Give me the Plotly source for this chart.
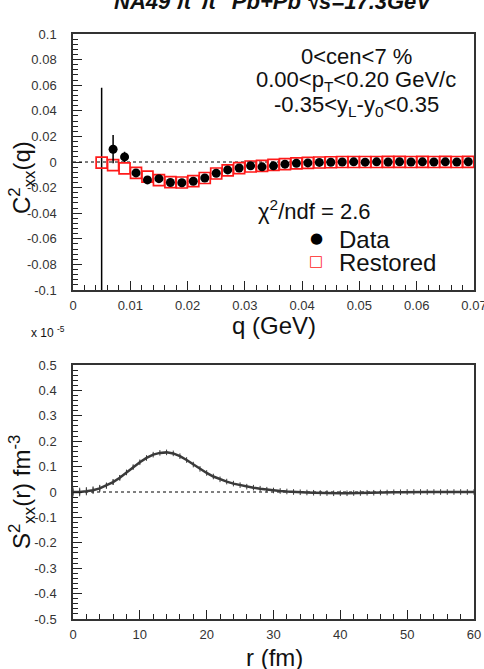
import plotly.graph_objects as go

# ---------------- data ----------------
# top panel: correlation C^2_xx(q)
data_q = [0.007, 0.009, 0.011, 0.013, 0.015, 0.017, 0.019, 0.021, 0.023, 0.025,
          0.027, 0.029, 0.031, 0.033, 0.035, 0.037, 0.039, 0.041, 0.043, 0.045,
          0.047, 0.049, 0.051, 0.053, 0.055, 0.057, 0.059, 0.061, 0.063, 0.065,
          0.067, 0.069]
data_c = [0.0100, 0.0040, -0.0085, -0.0140, -0.0130, -0.0160, -0.0162, -0.0150, -0.0125, -0.0088,
          -0.0062, -0.0047, -0.0030, -0.0038, -0.0030, -0.0017, -0.0010, -0.0007, -0.0003, -0.0002,
          0.0000, 0.0001, -0.0001, 0.0001, 0.0000, 0.0002, 0.0000, 0.0001, 0.0000, 0.0001,
          0.0000, 0.0002]
data_err = [0.011, 0.004, 0.002, 0.0015, 0.0012, 0.001, 0.001, 0.0008, 0.0008, 0.0007,
            0.0006, 0.0006, 0.0005, 0.0005, 0.0005, 0.0004, 0.0004, 0.0004, 0.0004, 0.0003,
            0.0003, 0.0003, 0.0003, 0.0003, 0.0003, 0.0003, 0.0003, 0.0003, 0.0003, 0.0003,
            0.0003, 0.0003]

# first bin: no data marker, only a very large uncertainty
lead_q = [0.005]
lead_c = [0.0]
lead_err_up = [0.058]
lead_err_down = [0.15]

rest_q = [0.005, 0.007, 0.009, 0.011, 0.013, 0.015, 0.017, 0.019, 0.021, 0.023,
          0.025, 0.027, 0.029, 0.031, 0.033, 0.035, 0.037, 0.039, 0.041, 0.043,
          0.045, 0.047, 0.049, 0.051, 0.053, 0.055, 0.057, 0.059, 0.061, 0.063,
          0.065, 0.067, 0.069]
rest_c = [-0.0005, -0.0025, -0.0050, -0.0085, -0.0115, -0.0142, -0.0157, -0.0160, -0.0150, -0.0125,
          -0.0090, -0.0065, -0.0048, -0.0035, -0.0030, -0.0023, -0.0016, -0.0011, -0.0007, -0.0004,
          -0.0002, 0.0000, 0.0000, 0.0000, 0.0000, 0.0001, 0.0001, 0.0000, 0.0001, 0.0000,
          0.0001, 0.0000, 0.0001]

# bottom panel: source function S^2_xx(r), in units of 1e-5 fm^-3
src_r = list(range(0, 61))
src_s = [0.000, 0.000, 0.003, 0.007, 0.014, 0.025, 0.039, 0.056, 0.077, 0.098,
         0.117, 0.134, 0.147, 0.154, 0.156, 0.152, 0.141, 0.126, 0.108, 0.091,
         0.075, 0.061, 0.050, 0.041, 0.033, 0.027, 0.021, 0.017, 0.013, 0.009,
         0.006, 0.004, 0.002, 0.000, -0.001, -0.002, -0.003, -0.004, -0.004, -0.005,
         -0.005, -0.005, -0.004, -0.004, -0.003, -0.003, -0.002, -0.002, -0.001, -0.001,
         0.000, 0.000, 0.000, 0.000, 0.000, 0.000, 0.000, 0.000, 0.000, 0.000,
         0.000]
src_err = [0.018, 0.017, 0.016, 0.015, 0.014, 0.012, 0.011, 0.010, 0.008, 0.007,
           0.006, 0.005, 0.004, 0.004, 0.003, 0.003, 0.003, 0.002, 0.002, 0.002,
           0.002, 0.002, 0.002, 0.002, 0.002, 0.002, 0.002, 0.002, 0.002, 0.002,
           0.002, 0.002, 0.002, 0.002, 0.002, 0.002, 0.002, 0.002, 0.002, 0.002,
           0.002, 0.002, 0.002, 0.002, 0.002, 0.002, 0.002, 0.002, 0.002, 0.002,
           0.002, 0.002, 0.002, 0.002, 0.002, 0.002, 0.002, 0.002, 0.002, 0.002,
           0.002]

# tick labels
q_ticks = [0, 0.01, 0.02, 0.03, 0.04, 0.05, 0.06, 0.07]
q_labels = ["0", "0.01", "0.02", "0.03", "0.04", "0.05", "0.06", "0.07"]
c_ticks = [-0.1, -0.08, -0.06, -0.04, -0.02, 0, 0.02, 0.04, 0.06, 0.08, 0.1]
c_labels = ["-0.1", "-0.08", "-0.06", "-0.04", "-0.02", "0", "0.02", "0.04", "0.06", "0.08", "0.1"]
r_ticks = [0, 10, 20, 30, 40, 50, 60]
r_labels = ["0", "10", "20", "30", "40", "50", "60"]
s_ticks = [-0.5, -0.4, -0.3, -0.2, -0.1, 0, 0.1, 0.2, 0.3, 0.4, 0.5]
s_labels = ["-0.5", "-0.4", "-0.3", "-0.2", "-0.1", "0", "0.1", "0.2", "0.3", "0.4", "0.5"]

# ---------------- layout helpers ----------------
W, H = 484, 669
ML, MR, MT, MB = 73, 10, 34, 50
PW, PH = W - ML - MR, H - MT - MB


def px_x(x):
    return (x - ML) / PW


def px_y(y):
    return (H - MB - y) / PH


FONT = "Liberation Sans, Arial, Helvetica, sans-serif"
AX = "#222222"

fig = go.Figure()

# top panel traces
fig.add_trace(go.Scatter(
    x=lead_q, y=lead_c, mode="markers", marker=dict(size=1, color="rgba(0,0,0,0)"),
    error_y=dict(type="data", symmetric=False, array=lead_err_up, arrayminus=lead_err_down,
                 color="black", thickness=1.5, width=0),
    showlegend=False, xaxis="x", yaxis="y"))
fig.add_trace(go.Scatter(
    x=rest_q, y=rest_c, mode="markers", name="Restored",
    marker=dict(symbol="square-open", size=11, color="#ff1a1a", line=dict(width=1.7)),
    showlegend=False, xaxis="x", yaxis="y"))
fig.add_trace(go.Scatter(
    x=data_q, y=data_c, mode="markers", name="Data",
    marker=dict(symbol="circle", size=9, color="black"),
    error_y=dict(type="data", array=data_err, color="black", thickness=1.5, width=0),
    showlegend=False, xaxis="x", yaxis="y"))

# bottom panel trace
fig.add_trace(go.Scatter(
    x=src_r, y=src_s, mode="lines+markers",
    line=dict(color="#3a3a3a", width=2.5),
    marker=dict(symbol="line-ns-open", size=4, color="#3a3a3a", line=dict(width=1)),
    error_y=dict(type="data", array=src_err, color="#3a3a3a", thickness=1, width=0),
    showlegend=False, xaxis="x2", yaxis="y2"))

# dotted zero lines
for xr, yr in (("x", "y"), ("x2", "y2")):
    fig.add_shape(type="line", xref=f"{xr} domain", yref=yr, x0=0, x1=1, y0=0, y1=0,
                  line=dict(color="black", width=1, dash="dot"), layer="below")

tick_font = dict(family=FONT, size=13, color="#333333")
common = dict(showline=True, linecolor="#333333", linewidth=1.5, mirror=True,
              ticks="inside", ticklen=9, tickwidth=1, tickcolor=AX, automargin=False,
              showgrid=False, zeroline=False, tickfont=tick_font, tickmode="array",
              ticklabeloverflow="allow")

fig.update_layout(
    width=W, height=H,
    margin=dict(l=ML, r=MR, t=MT, b=MB, autoexpand=False),
    paper_bgcolor="white", plot_bgcolor="white",
    font=dict(family=FONT, color="#111111"),
    showlegend=False,
    xaxis=dict(domain=[0, 1], range=[0, 0.07], anchor="y", tickvals=q_ticks, ticktext=q_labels,
               minor=dict(ticks="inside", dtick=0.002, ticklen=5, tickcolor=AX),
               ticklabelstandoff=3, **common),
    yaxis=dict(domain=[px_y(290), 1], range=[-0.1, 0.1], anchor="x", tickvals=c_ticks, ticktext=c_labels,
               minor=dict(ticks="inside", dtick=0.004, ticklen=5, tickcolor=AX),
               ticklabelstandoff=12, **common),
    xaxis2=dict(domain=[0, 1], range=[0, 60], anchor="y2", tickvals=r_ticks, ticktext=r_labels,
                minor=dict(ticks="inside", dtick=2, ticklen=5, tickcolor=AX),
                ticklabelstandoff=3, **common),
    yaxis2=dict(domain=[0, px_y(365)], range=[-0.5, 0.5], anchor="x2", tickvals=s_ticks, ticktext=s_labels,
                minor=dict(ticks="inside", dtick=0.02, ticklen=5, tickcolor=AX),
                ticklabelstandoff=12, **common),
)


def ann(text, x, y, size, family=FONT, color="#111111", xanchor="center", **kw):
    d = dict(text=text, x=px_x(x), y=px_y(y), xref="paper", yref="paper",
             xanchor=xanchor, yanchor="middle",
             showarrow=False, font=dict(family=family, size=size, color=color))
    d.update(kw)
    fig.add_annotation(**d)


ann("<b><i>NA49 π<sup>+</sup>π<sup>+</sup> Pb+Pb √s=17.3GeV</i></b>", 273, 0, 22)
ann("0<cen<7 %", 356, 57, 22)
ann("0.00<p<sub>T</sub><0.20 GeV/c", 356, 81, 22)
ann("-0.35<y<sub>L</sub>-y<sub>0</sub><0.35", 356, 106, 22)
ann("χ<sup>2</sup>/ndf = 2.6", 314, 210, 22)
# legend
ann("●", 316, 238, 15, family="DejaVu Sans", color="black")
ann("Data", 337, 240, 24, xanchor="left")
ann("<b>□</b>", 316, 261, 15, family="DejaVu Sans", color="#ff1a1a")
ann("Restored", 337, 262, 24, xanchor="left")
# axis titles
ann("q (GeV)", 274, 325, 24)
ann("r (fm)", 274, 657, 24)
ann("C<sup>2</sup><sub>xx</sub>(q)", 22, 178, 24, textangle=-90)
ann("S<sup>2</sup><sub>xx</sub>(r) fm<sup>-3</sup>", 22, 492, 24, textangle=-90)
ann("x 10 <sup>-5</sup>", 48, 332, 12)

fig.write_html("out.html")
